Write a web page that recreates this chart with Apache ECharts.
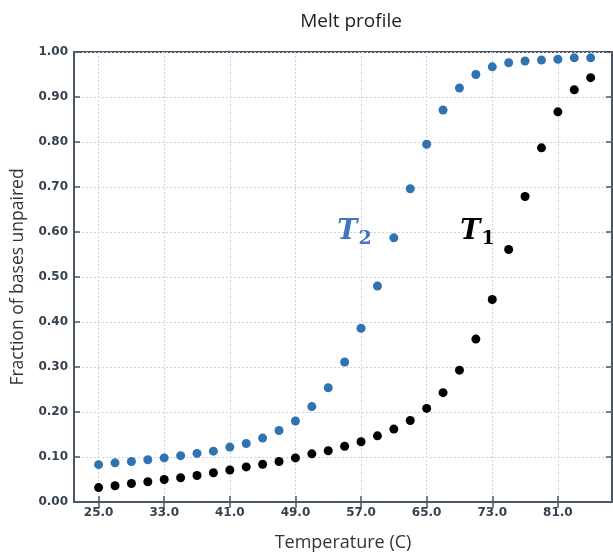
<!DOCTYPE html>
<html>
<head>
<meta charset="utf-8">
<script src="https://cdn.jsdelivr.net/npm/echarts@6/dist/echarts.min.js"></script>
<style>
  html, body { margin: 0; padding: 0; background: #fff; }
  #main { width: 613px; height: 554px; }
</style>
</head>
<body>
<div id="main"></div>
<script>
// temperatures, every 2 degrees
const temps = [25, 27, 29, 31, 33, 35, 37, 39, 41, 43, 45, 47, 49, 51, 53, 55,
  57, 59, 61, 63, 65, 67, 69, 71, 73, 75, 77, 79, 81, 83, 85];
const t2Values = [0.083, 0.087, 0.090, 0.094, 0.098, 0.103, 0.108, 0.113, 0.122, 0.130,
  0.142, 0.159, 0.180, 0.212, 0.254, 0.311, 0.386, 0.480, 0.587, 0.696, 0.795, 0.871,
  0.920, 0.950, 0.967, 0.976, 0.980, 0.982, 0.984, 0.987, 0.987];
const t1Values = [0.032, 0.036, 0.041, 0.045, 0.050, 0.054, 0.059, 0.065, 0.071, 0.078,
  0.084, 0.090, 0.098, 0.107, 0.114, 0.124, 0.134, 0.147, 0.162, 0.181, 0.208, 0.243,
  0.293, 0.362, 0.450, 0.561, 0.679, 0.787, 0.867, 0.916, 0.943];
const xTicks = [25, 33, 41, 49, 57, 65, 73, 81];
// where the T1 / T2 annotations sit (data coords)
const t2LabelPos = [56.2, 0.60];
const t1LabelPos = [71.2, 0.60];

const axisColor = '#4a5866';
const labelColor = '#35414e';
const gridLine = { show: true, lineStyle: { color: '#cdd4de', type: [2, 2], width: 1 } };

const chart = echarts.init(document.getElementById('main'));

function tLabel(sub, color) {
  return {
    show: true,
    position: 'inside',
    formatter: '{t|T}{s|' + sub + '}',
    rich: {
      t: { fontFamily: 'DejaVu Serif', fontStyle: 'italic', fontWeight: 'bold', fontSize: 27, color: color },
      s: { fontFamily: 'DejaVu Serif', fontWeight: 'bold', fontSize: 19, color: color, padding: [14, 0, 0, 1] }
    }
  };
}

const tickLabel = { fontFamily: 'DejaVu Sans', fontSize: 12, fontWeight: 'bold', color: labelColor };

chart.setOption({
  animation: false,
  title: {
    text: 'Melt profile',
    left: 346, top: 7, textAlign: 'center',
    textStyle: { fontFamily: 'Open Sans', fontSize: 19, fontWeight: 'normal', color: '#222' }
  },
  grid: {
    left: 74, right: 1, top: 52, bottom: 52,
    show: true, borderColor: axisColor, borderWidth: 2,
    containLabel: false, outerBoundsMode: 'none'
  },
  xAxis: [{
    type: 'value', min: 22, max: 87.6,
    name: 'Temperature (C)', nameLocation: 'middle', nameGap: 32,
    nameTextStyle: { fontFamily: 'Open Sans', fontSize: 18, color: '#333' },
    axisLine: { show: true, onZero: false, lineStyle: { color: axisColor, width: 2 } },
    axisTick: { show: true, inside: true, length: 6, customValues: xTicks, lineStyle: { color: axisColor, width: 1.5 } },
    axisLabel: Object.assign({ customValues: xTicks, formatter: v => v.toFixed(1), margin: 5 }, tickLabel),
    splitLine: gridLine
  }, {
    type: 'value', position: 'top', min: 22, max: 87.6,
    axisLine: { show: false },
    axisTick: { show: true, inside: true, length: 6, customValues: xTicks, lineStyle: { color: axisColor, width: 1.5 } },
    axisLabel: { show: false },
    splitLine: { show: false }
  }],
  yAxis: [{
    type: 'value', min: 0, max: 1, interval: 0.1,
    name: 'Fraction of bases unpaired', nameLocation: 'middle', nameGap: 46,
    nameTextStyle: { fontFamily: 'Open Sans', fontSize: 17.5, color: '#333' },
    axisLine: { show: true, lineStyle: { color: axisColor, width: 2 } },
    axisTick: { show: true, inside: true, length: 6, lineStyle: { color: axisColor, width: 1.5 } },
    axisLabel: Object.assign({ formatter: v => v.toFixed(2), margin: 6 }, tickLabel),
    splitLine: gridLine
  }, {
    type: 'value', position: 'right', min: 0, max: 1, interval: 0.1,
    axisLine: { show: false },
    axisTick: { show: true, inside: true, length: 6, lineStyle: { color: axisColor, width: 1.5 } },
    axisLabel: { show: false },
    splitLine: { show: false }
  }],
  series: [{
    name: 'T2', type: 'scatter', symbolSize: 9,
    itemStyle: { color: '#2f74b1', opacity: 1 },
    data: temps.map((t, i) => [t, t2Values[i]])
  }, {
    name: 'T1', type: 'scatter', symbolSize: 9,
    itemStyle: { color: '#000', opacity: 1 },
    data: temps.map((t, i) => [t, t1Values[i]])
  }, {
    type: 'scatter', symbolSize: 0, silent: true,
    itemStyle: { opacity: 1 },
    data: [{ value: t2LabelPos, label: tLabel('2', '#4472c4') },
           { value: t1LabelPos, label: tLabel('1', '#000') }]
  }]
});
</script>
</body>
</html>
